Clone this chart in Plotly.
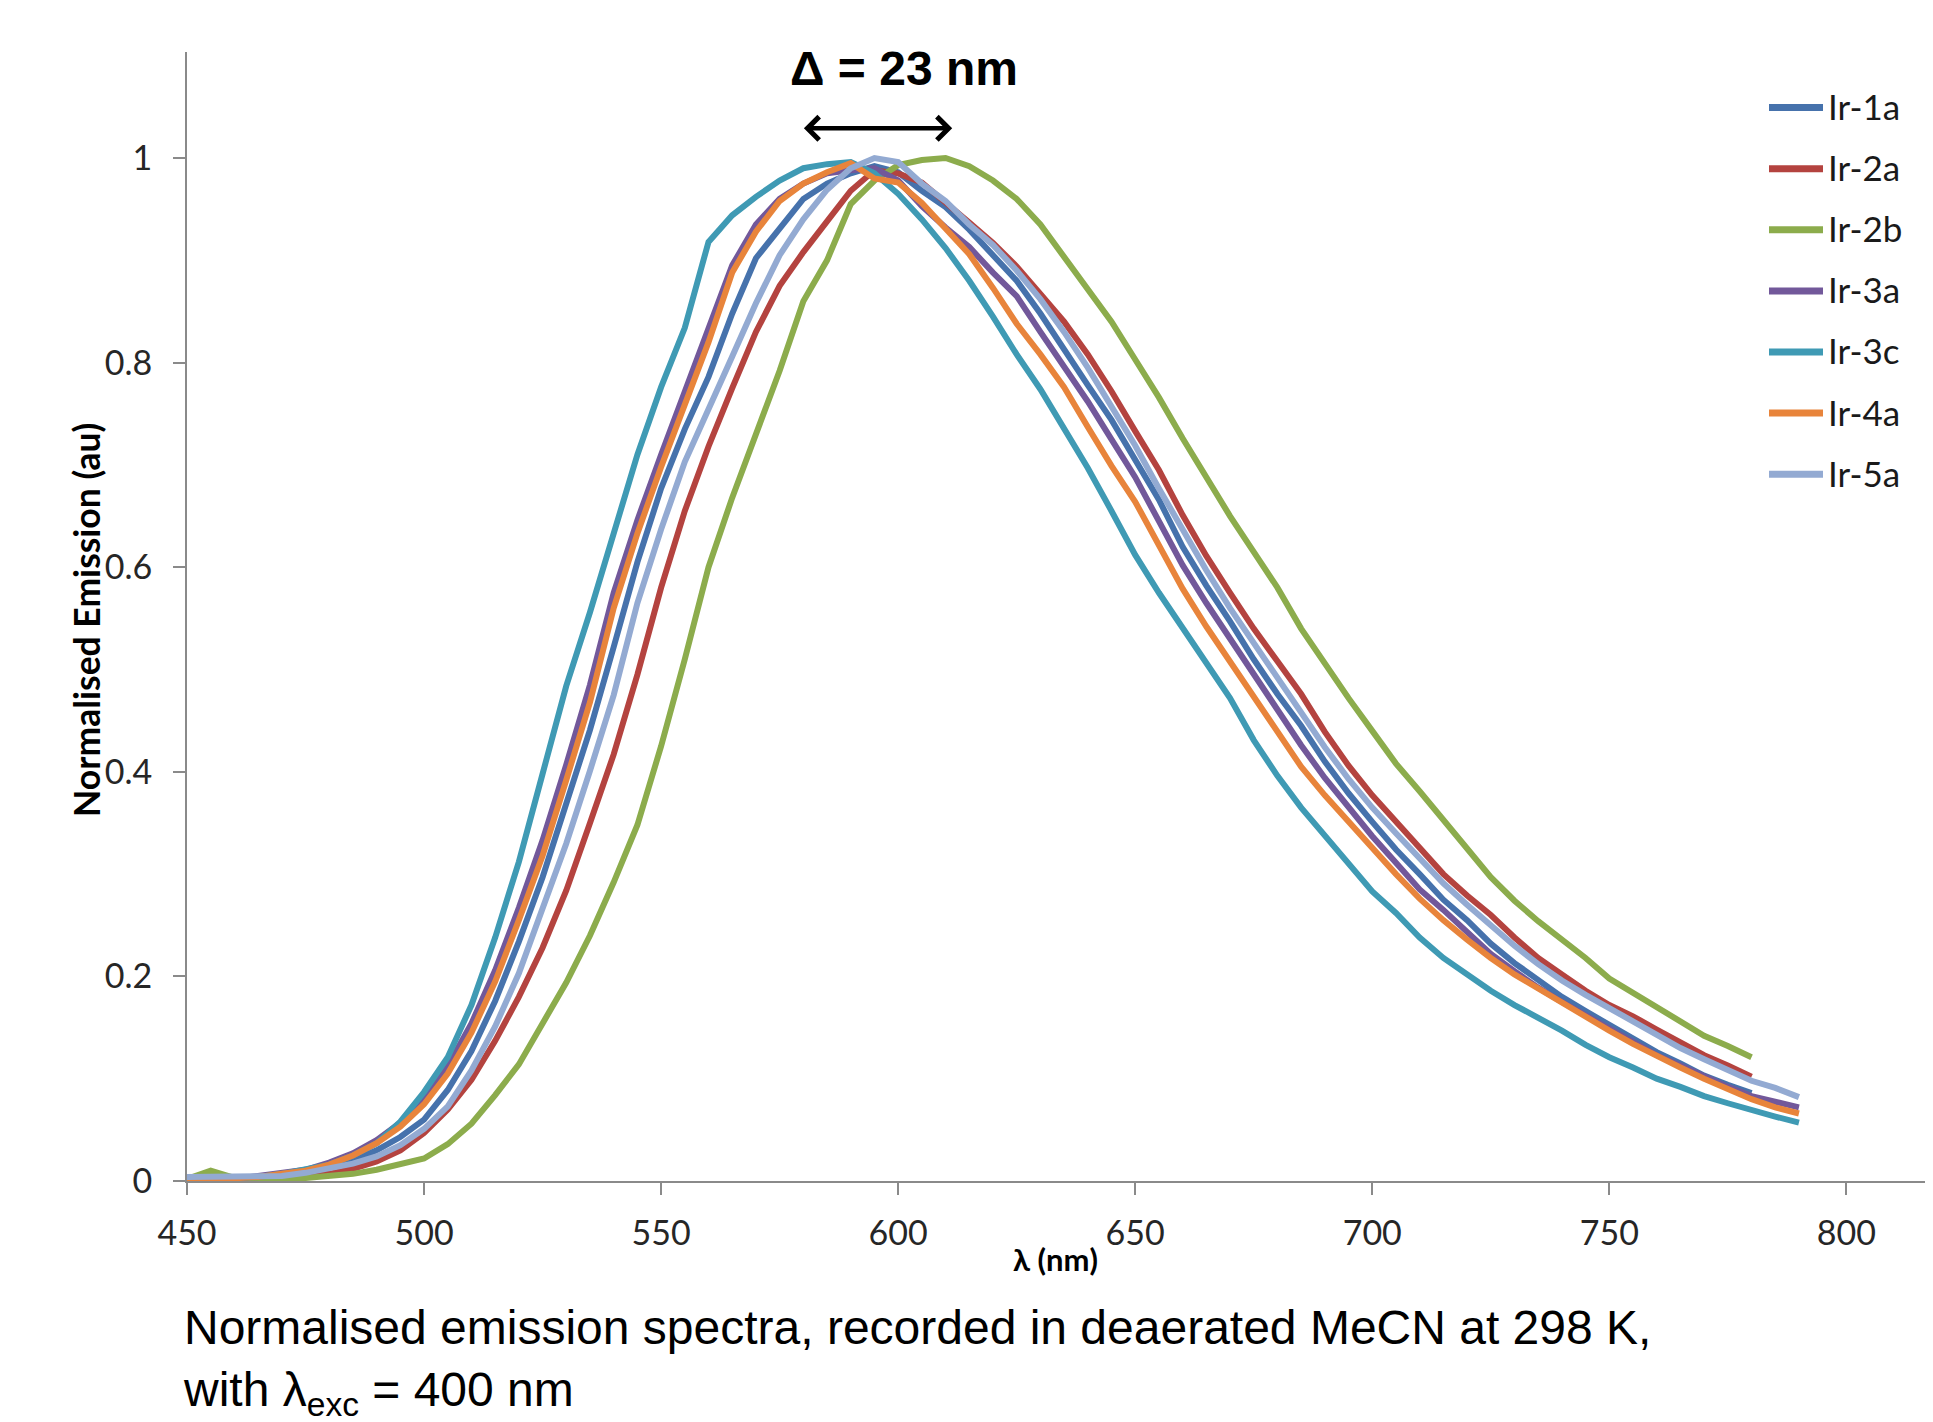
import plotly.graph_objects as go

# ---------------- data ----------------
wavelength_nm = [450, 455, 460, 465, 470, 475, 480, 485, 490, 495,
                 500, 505, 510, 515, 520, 525, 530, 535, 540, 545,
                 550, 555, 560, 565, 570, 575, 580, 585, 590, 595,
                 600, 605, 610, 615, 620, 625, 630, 635, 640, 645,
                 650, 655, 660, 665, 670, 675, 680, 685, 690, 695,
                 700, 705, 710, 715, 720, 725, 730, 735, 740, 745,
                 750, 755, 760, 765, 770, 775, 780, 785, 790]

series_names = ["Ir-1a", "Ir-2a", "Ir-2b", "Ir-3a", "Ir-3c", "Ir-4a", "Ir-5a"]

ir_1a = [0.000, 0.001, 0.002, 0.003, 0.005, 0.008, 0.013, 0.020, 0.030, 0.043,
         0.060, 0.089, 0.127, 0.176, 0.234, 0.297, 0.368, 0.441, 0.522, 0.605,
         0.677, 0.735, 0.786, 0.848, 0.902, 0.930, 0.960, 0.975, 0.985, 0.992,
         0.986, 0.968, 0.952, 0.930, 0.905, 0.880, 0.848, 0.812, 0.778, 0.744,
         0.706, 0.666, 0.620, 0.582, 0.547, 0.510, 0.476, 0.445, 0.410, 0.379,
         0.351, 0.324, 0.300, 0.275, 0.255, 0.232, 0.213, 0.196, 0.180, 0.166,
         0.153, 0.139, 0.126, 0.115, 0.103, 0.094, 0.086]

ir_2a = [0.000, 0.000, 0.001, 0.001, 0.002, 0.004, 0.007, 0.012, 0.019, 0.030,
         0.047, 0.070, 0.099, 0.137, 0.180, 0.228, 0.284, 0.350, 0.417, 0.495,
         0.580, 0.655, 0.718, 0.775, 0.830, 0.875, 0.908, 0.938, 0.968, 0.988,
         0.985, 0.976, 0.957, 0.937, 0.917, 0.894, 0.867, 0.840, 0.808, 0.772,
         0.733, 0.695, 0.651, 0.611, 0.575, 0.540, 0.508, 0.476, 0.439, 0.406,
         0.377, 0.351, 0.326, 0.300, 0.279, 0.260, 0.238, 0.218, 0.202, 0.186,
         0.172, 0.161, 0.148, 0.136, 0.123, 0.113, 0.102]

ir_2b = [0.002, 0.010, 0.003, 0.002, 0.002, 0.003, 0.005, 0.007, 0.011, 0.016,
         0.022, 0.036, 0.056, 0.084, 0.114, 0.154, 0.194, 0.240, 0.292, 0.348,
         0.425, 0.510, 0.600, 0.668, 0.730, 0.792, 0.860, 0.900, 0.955, 0.978,
         0.993, 0.998, 1.000, 0.992, 0.978, 0.960, 0.935, 0.903, 0.871, 0.840,
         0.803, 0.766, 0.726, 0.688, 0.650, 0.615, 0.580, 0.540, 0.505, 0.472,
         0.440, 0.408, 0.381, 0.352, 0.325, 0.297, 0.274, 0.254, 0.236, 0.218,
         0.198, 0.184, 0.170, 0.156, 0.142, 0.132, 0.121]

ir_3a = [0.000, 0.001, 0.002, 0.005, 0.008, 0.011, 0.018, 0.027, 0.040, 0.057,
         0.081, 0.112, 0.154, 0.206, 0.267, 0.333, 0.407, 0.485, 0.575, 0.646,
         0.710, 0.772, 0.835, 0.895, 0.935, 0.960, 0.975, 0.985, 0.988, 0.990,
         0.978, 0.953, 0.932, 0.913, 0.888, 0.865, 0.830, 0.797, 0.762, 0.725,
         0.688, 0.645, 0.602, 0.565, 0.530, 0.495, 0.462, 0.426, 0.394, 0.365,
         0.337, 0.311, 0.285, 0.265, 0.243, 0.222, 0.205, 0.189, 0.175, 0.162,
         0.150, 0.136, 0.123, 0.113, 0.102, 0.092, 0.083, 0.077, 0.072]

ir_3c = [0.000, 0.001, 0.002, 0.004, 0.007, 0.011, 0.016, 0.025, 0.037, 0.058,
         0.087, 0.121, 0.172, 0.238, 0.312, 0.398, 0.484, 0.556, 0.634, 0.710,
         0.776, 0.834, 0.918, 0.944, 0.962, 0.978, 0.990, 0.994, 0.996, 0.985,
         0.965, 0.940, 0.912, 0.880, 0.845, 0.808, 0.774, 0.735, 0.697, 0.655,
         0.612, 0.575, 0.540, 0.506, 0.472, 0.431, 0.396, 0.365, 0.337, 0.311,
         0.283, 0.262, 0.238, 0.218, 0.202, 0.186, 0.172, 0.160, 0.147, 0.133,
         0.121, 0.111, 0.100, 0.092, 0.083, 0.076, 0.069, 0.063, 0.057]

ir_4a = [0.000, 0.001, 0.002, 0.004, 0.007, 0.010, 0.016, 0.025, 0.037, 0.053,
         0.075, 0.105, 0.145, 0.195, 0.255, 0.318, 0.392, 0.468, 0.560, 0.633,
         0.698, 0.760, 0.820, 0.888, 0.928, 0.958, 0.975, 0.986, 0.995, 0.980,
         0.976, 0.956, 0.932, 0.906, 0.873, 0.838, 0.808, 0.776, 0.737, 0.699,
         0.664, 0.620, 0.579, 0.542, 0.508, 0.474, 0.438, 0.405, 0.377, 0.351,
         0.324, 0.300, 0.276, 0.255, 0.236, 0.218, 0.202, 0.188, 0.174, 0.160,
         0.147, 0.134, 0.122, 0.111, 0.100, 0.090, 0.080, 0.072, 0.066]

ir_5a = [0.004, 0.004, 0.004, 0.005, 0.005, 0.008, 0.012, 0.017, 0.024, 0.035,
         0.051, 0.073, 0.108, 0.151, 0.203, 0.265, 0.330, 0.401, 0.475, 0.565,
         0.637, 0.703, 0.756, 0.806, 0.858, 0.905, 0.940, 0.969, 0.990, 1.000,
         0.996, 0.975, 0.958, 0.935, 0.915, 0.890, 0.862, 0.830, 0.795, 0.758,
         0.719, 0.677, 0.637, 0.597, 0.560, 0.526, 0.492, 0.460, 0.424, 0.393,
         0.365, 0.340, 0.316, 0.291, 0.270, 0.250, 0.230, 0.212, 0.196, 0.182,
         0.169, 0.157, 0.144, 0.130, 0.119, 0.109, 0.098, 0.091, 0.082]

series_values = [ir_1a, ir_2a, ir_2b, ir_3a, ir_3c, ir_4a, ir_5a]
series_colors = ["#4672AC", "#B4433F", "#8CAC4C", "#72589A", "#3F9AB4", "#E8843B", "#93AAD2"]

x_tick_values = [450, 500, 550, 600, 650, 700, 750, 800]
y_tick_values = [0, 0.2, 0.4, 0.6, 0.8, 1]
y_tick_labels = ["0", "0.2", "0.4", "0.6", "0.8", "1"]

shift_label = "Δ = 23 nm"
shift_from_nm, shift_to_nm, shift_level = 579.8, 611.4, 1.029

caption_text = ("Normalised emission spectra, recorded in deaerated MeCN at 298 K,<br>"
                "with λ<sub>exc</sub> = 400 nm")

# ---------------- layout geometry ----------------
# The page body has an 8 px default margin, so the figure is made 8 px smaller
# and all screen positions below are shifted by that offset.
OFF = 8
W, H = 1933 - OFF, 1422 - OFF
L, R, T, B = 187 - OFF, 0, 52 - OFF, 241
PW, PH = W - L - R, H - T - B


def px_x(X):
    return (X - OFF - L) / PW


def px_y(Y):
    return (H - B - (Y - OFF)) / PH


AXIS_GREY = "#8A8A8A"
CAL = "Lato, 'Open Sans', sans-serif"
ARIAL = "'Liberation Sans', Arial, sans-serif"

fig = go.Figure()
for name, vals, col in zip(series_names, series_values, series_colors):
    fig.add_trace(go.Scatter(
        x=wavelength_nm[:len(vals)], y=vals, mode="lines", name=name,
        line=dict(color=col, width=6), showlegend=False,
        hoverinfo="x+y+name",
    ))

annotations = []
shapes = []

# manual legend (long line samples like the original)
for i, (name, col) in enumerate(zip(series_names, series_colors)):
    Yc = 107.6 + i * 61.1
    shapes.append(dict(type="line", xref="paper", yref="paper",
                       x0=px_x(1769), x1=px_x(1823), y0=px_y(Yc), y1=px_y(Yc),
                       line=dict(color=col, width=7)))
    annotations.append(dict(text=name, xref="paper", yref="paper",
                            x=px_x(1826), y=px_y(Yc - 1.5), xanchor="left", yanchor="middle",
                            showarrow=False, font=dict(family=CAL, size=35, color="#1a1a1a")))

# double-headed arrow
annotations.append(dict(x=shift_to_nm, y=shift_level, ax=shift_from_nm, ay=shift_level,
                        xref="x", yref="y", axref="x", ayref="y", text="",
                        showarrow=True, arrowhead=4, startarrowhead=4, arrowside="end+start",
                        arrowwidth=4.5, arrowsize=1, startarrowsize=1, arrowcolor="#000000"))
# shift label
annotations.append(dict(text="<b>" + shift_label + "</b>", xref="paper", yref="paper",
                        x=px_x(904), y=px_y(68), xanchor="center", yanchor="middle",
                        showarrow=False, font=dict(family=ARIAL, size=48, color="#000000")))
# axis titles
annotations.append(dict(text="<b>Normalised Emission (au)</b>", xref="paper", yref="paper",
                        x=px_x(86), y=px_y(620), xanchor="center", yanchor="middle", textangle=-90,
                        showarrow=False, font=dict(family=CAL, size=35.5, color="#000000")))
annotations.append(dict(text="<b>λ (nm)</b>", xref="paper", yref="paper",
                        x=px_x(1055), y=px_y(1259), xanchor="center", yanchor="middle",
                        showarrow=False, font=dict(family=CAL, size=31, color="#000000")))
# caption (two lines in one text block, kept at the bottom edge as in the original)
annotations.append(dict(text=caption_text,
                        xref="paper", yref="paper", x=px_x(181), y=px_y(1425),
                        xanchor="left", yanchor="bottom", align="left", showarrow=False,
                        font=dict(family=ARIAL, size=48, color="#000000")))

fig.update_layout(
    width=W, height=H,
    margin=dict(l=L, r=R, t=T, b=B, pad=0),
    paper_bgcolor="#ffffff", plot_bgcolor="#ffffff",
    showlegend=False,
    annotations=annotations, shapes=shapes,
    xaxis=dict(range=[450, 450 + PW / 4.741], tickvals=x_tick_values,
               showgrid=False, zeroline=False, showline=True, linecolor=AXIS_GREY, linewidth=2,
               ticks="outside", ticklen=12, tickwidth=2, tickcolor=AXIS_GREY,
               ticklabelstandoff=9, layer="below traces",
               tickfont=dict(family=CAL, size=34, color="#262626")),
    yaxis=dict(range=[0, PH / 1023.0], tickvals=y_tick_values, ticktext=y_tick_labels,
               showgrid=False, zeroline=False, showline=True, linecolor=AXIS_GREY, linewidth=2,
               ticks="outside", ticklen=12, tickwidth=2, tickcolor=AXIS_GREY,
               ticklabelstandoff=14, layer="below traces",
               tickfont=dict(family=CAL, size=34, color="#262626")),
)

fig.write_html("out.html", config={"displayModeBar": False})
